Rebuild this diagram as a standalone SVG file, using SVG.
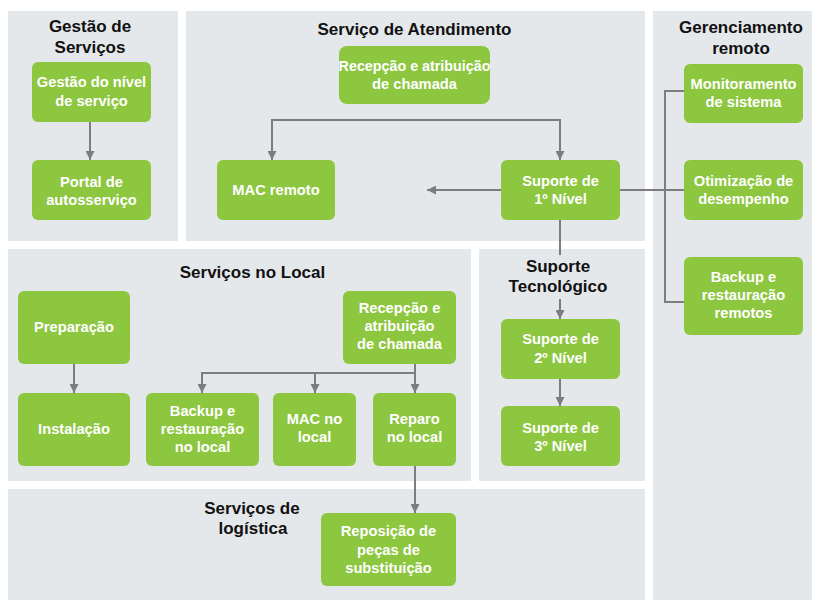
<svg xmlns="http://www.w3.org/2000/svg" width="816" height="600" viewBox="0 0 816 600">
<style>
.panel{fill:#e5e8eb}
.node{fill:#8dc63f}
.title{font-family:"Liberation Sans",Arial,sans-serif;font-weight:bold;font-size:17px;fill:#111;text-anchor:middle}
.lbl{font-family:"Liberation Sans",Arial,sans-serif;font-weight:bold;font-size:14.7px;fill:#fff;text-anchor:middle}
.con{fill:none;stroke:#7d7d80;stroke-width:2}
.arr{stroke:#7d7d80;stroke-width:2;fill:none;marker-end:url(#ah)}
</style>
<defs>
<marker id="ah" viewBox="0 0 10 10" refX="10" refY="5" markerWidth="4.5" markerHeight="4.5" orient="auto" markerUnits="strokeWidth">
<path d="M0,0 L10,5 L0,10 z" fill="#7d7d80"/>
</marker>
</defs>
<rect width="816" height="600" fill="#fff"/>
<g id="panels">
<rect class="panel" x="8" y="11" width="170" height="230"/>
<rect class="panel" x="186" y="11" width="459" height="230"/>
<rect class="panel" x="653" y="11" width="159" height="589"/>
<rect class="panel" x="8" y="249" width="463" height="232"/>
<rect class="panel" x="479" y="249" width="166" height="232"/>
<rect class="panel" x="8" y="489" width="637" height="111"/>
<text class="title" x="90" y="32">Gestão de</text>
<text class="title" x="90" y="53">Serviços</text>
<text class="title" x="414.5" y="35">Serviço de Atendimento</text>
<text class="title" x="741" y="33">Gerenciamento</text>
<text class="title" x="741" y="54">remoto</text>
<text class="title" x="252.5" y="278">Serviços no Local</text>
<text class="title" x="558" y="272">Suporte</text>
<text class="title" x="558" y="292">Tecnológico</text>
<text class="title" x="252" y="514">Serviços de</text>
<text class="title" x="253" y="534">logística</text>
</g>
<g id="connectors">
<line class="arr" x1="90" y1="122" x2="90" y2="160"/>
<polyline class="con" points="272,120 560,120"/>
<line class="arr" x1="272" y1="119" x2="272" y2="160"/>
<line class="arr" x1="560" y1="119" x2="560" y2="160"/>
<line class="arr" x1="501" y1="190" x2="427" y2="190"/>
<line class="con" x1="620" y1="190" x2="684" y2="190"/>
<polyline class="con" points="684,91 665,91 665,302 684,302"/>
<line class="con" x1="560" y1="220" x2="560" y2="255"/>
<line class="arr" x1="560" y1="299" x2="560" y2="319"/>
<line class="arr" x1="560" y1="379" x2="560" y2="406"/>
<line class="arr" x1="74" y1="364" x2="74" y2="393"/>
<line class="arr" x1="415" y1="364" x2="415" y2="393"/>
<polyline class="con" points="202,373 415,373"/>
<line class="arr" x1="202" y1="372" x2="202" y2="393"/>
<line class="arr" x1="315" y1="372" x2="315" y2="393"/>
<line class="arr" x1="415" y1="466" x2="415" y2="513"/>
</g>
<g id="n-gestao-nivel"><rect class="node" x="32" y="62" width="119" height="60" rx="6"/><text class="lbl" x="91.5" y="87">Gestão do nível</text><text class="lbl" x="91.5" y="106">de serviço</text></g>
<g id="n-portal"><rect class="node" x="32" y="160" width="119" height="60" rx="6"/><text class="lbl" x="91.5" y="187">Portal de</text><text class="lbl" x="91.5" y="205">autosserviço</text></g>
<g id="n-recepcao-top"><rect class="node" x="339" y="46" width="151" height="58" rx="8"/><text class="lbl" x="414.5" y="71" style="font-size:14.3px">Recepção e atribuição</text><text class="lbl" x="414.5" y="89">de chamada</text></g>
<g id="n-mac-remoto"><rect class="node" x="217" y="160" width="118" height="60" rx="6"/><text class="lbl" x="276" y="195">MAC remoto</text></g>
<g id="n-suporte1"><rect class="node" x="501" y="160" width="119" height="60" rx="6"/><text class="lbl" x="560.5" y="186">Suporte de</text><text class="lbl" x="560.5" y="204">1º Nível</text></g>
<g id="n-monitoramento"><rect class="node" x="684" y="64" width="119" height="59" rx="6"/><text class="lbl" x="743.5" y="88.5">Monitoramento</text><text class="lbl" x="743.5" y="107">de sistema</text></g>
<g id="n-otimizacao"><rect class="node" x="684" y="160" width="119" height="60" rx="6"/><text class="lbl" x="743.5" y="186">Otimização de</text><text class="lbl" x="743.5" y="204">desempenho</text></g>
<g id="n-backup-remoto"><rect class="node" x="684" y="257" width="119" height="78" rx="6"/><text class="lbl" x="743.5" y="282">Backup e</text><text class="lbl" x="743.5" y="300">restauração</text><text class="lbl" x="743.5" y="318">remotos</text></g>
<g id="n-preparacao"><rect class="node" x="18" y="291" width="112" height="73" rx="6"/><text class="lbl" x="74" y="332">Preparação</text></g>
<g id="n-instalacao"><rect class="node" x="18" y="393" width="112" height="73" rx="6"/><text class="lbl" x="74" y="434">Instalação</text></g>
<g id="n-recepcao-local"><rect class="node" x="343" y="291" width="113" height="73" rx="6"/><text class="lbl" x="399.5" y="313">Recepção e</text><text class="lbl" x="399.5" y="331">atribuição</text><text class="lbl" x="399.5" y="349">de chamada</text></g>
<g id="n-backup-local"><rect class="node" x="146" y="393" width="113" height="73" rx="6"/><text class="lbl" x="202.5" y="416">Backup e</text><text class="lbl" x="202.5" y="434">restauração</text><text class="lbl" x="202.5" y="452">no local</text></g>
<g id="n-mac-local"><rect class="node" x="273" y="393" width="83" height="73" rx="6"/><text class="lbl" x="314.5" y="424">MAC no</text><text class="lbl" x="314.5" y="442">local</text></g>
<g id="n-reparo"><rect class="node" x="373" y="393" width="83" height="73" rx="6"/><text class="lbl" x="414.5" y="424">Reparo</text><text class="lbl" x="414.5" y="442">no local</text></g>
<g id="n-suporte2"><rect class="node" x="501" y="319" width="119" height="60" rx="6"/><text class="lbl" x="560.5" y="344">Suporte de</text><text class="lbl" x="560.5" y="363">2º Nível</text></g>
<g id="n-suporte3"><rect class="node" x="501" y="406" width="119" height="60" rx="6"/><text class="lbl" x="560.5" y="433">Suporte de</text><text class="lbl" x="560.5" y="451">3º Nível</text></g>
<g id="n-reposicao"><rect class="node" x="321" y="513" width="135" height="73" rx="6"/><text class="lbl" x="388.5" y="536">Reposição de</text><text class="lbl" x="388.5" y="555">peças de</text><text class="lbl" x="388.5" y="573">substituição</text></g>
</svg>
